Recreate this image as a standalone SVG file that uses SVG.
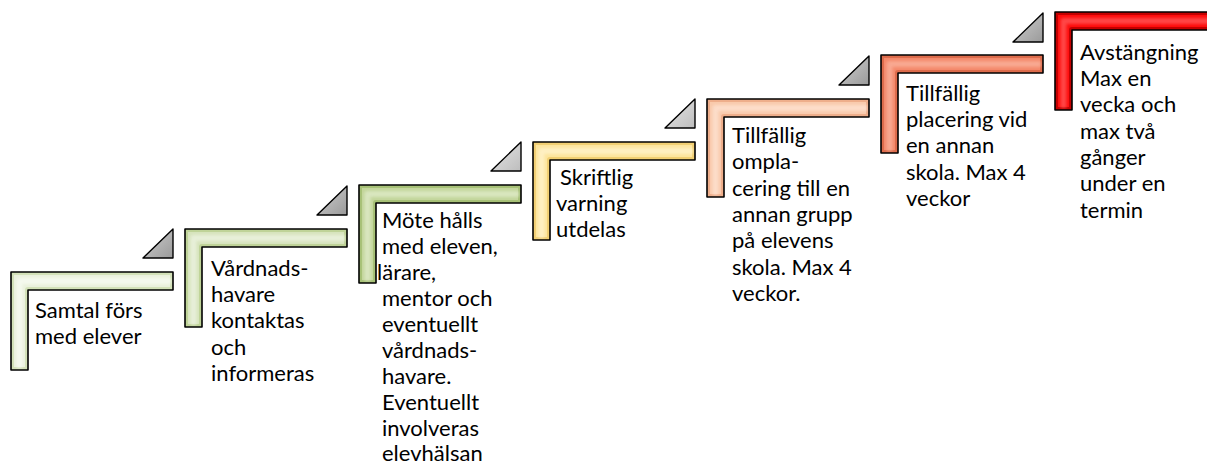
<svg xmlns="http://www.w3.org/2000/svg" width="1207" height="466" viewBox="0 0 1207 466">
<style>
  .lbl { font-family: Lato, "Noto Sans", "Liberation Sans", sans-serif; font-size: 22px; fill: #000; }
  .outline { fill: none; stroke: #000; stroke-width: 1.6; stroke-linejoin: round; }
  .edge { fill: none; stroke-width: 6; stroke-linejoin: round; }
  .hl { fill: none; stroke-width: 6; stroke-linejoin: round; opacity: 0.75; }
  .tri { stroke: #000; stroke-width: 1.4; stroke-linejoin: round; }
</style>
<defs>
  <path id="L" d="M0,0 H162 V18 H17 V98 H0 Z"/>
  <clipPath id="clipL"><use href="#L"/></clipPath>
  <filter id="soft" x="-20%" y="-20%" width="140%" height="140%"><feGaussianBlur stdDeviation="1.6"/></filter>
  <linearGradient id="triMid" x1="0" y1="0" x2="1" y2="1">
    <stop offset="0" stop-color="#d0d0d0"/><stop offset="1" stop-color="#9a9a9a"/>
  </linearGradient>
  <linearGradient id="triLight" x1="0" y1="0" x2="1" y2="1">
    <stop offset="0" stop-color="#e6e6e6"/><stop offset="1" stop-color="#bdbdbd"/>
  </linearGradient>
</defs>

<g id="connectors">
  <polygon class="tri" fill="url(#triMid)" points="143,258 173,258 173,229"/>
  <polygon class="tri" fill="url(#triMid)" points="317,215 347,215 347,186"/>
  <polygon class="tri" fill="url(#triLight)" points="491,171 521,171 521,142"/>
  <polygon class="tri" fill="url(#triLight)" points="665,128 695,128 695,99"/>
  <polygon class="tri" fill="url(#triMid)" points="839,85 869,85 869,56"/>
  <polygon class="tri" fill="url(#triMid)" points="1013,42 1043,42 1043,13"/>
</g>

<g id="step1">
  <g transform="translate(11,272)">
    <use href="#L" fill="#eaf1dd"/>
    <g clip-path="url(#clipL)">
      <use href="#L" class="edge" stroke="#d3e1b8"/>
      <path d="M8.5,96 V9 H160" class="hl" stroke="#f8fbf3" filter="url(#soft)"/>
    </g>
    <use href="#L" class="outline"/>
  </g>
  <text class="lbl"><tspan x="35" y="318">Samtal förs</tspan><tspan x="35" y="344">med elever</tspan></text>
</g>

<g id="step2">
  <g transform="translate(185,229)">
    <use href="#L" fill="#d7e4bd"/>
    <g clip-path="url(#clipL)">
      <use href="#L" class="edge" stroke="#bfd398"/>
      <path d="M8.5,96 V9 H160" class="hl" stroke="#edf3e2" filter="url(#soft)"/>
    </g>
    <use href="#L" class="outline"/>
  </g>
  <text class="lbl"><tspan x="211" y="276">Vårdnads-</tspan><tspan x="211" y="302">havare</tspan><tspan x="211" y="328">kontaktas</tspan><tspan x="211" y="355">och</tspan><tspan x="211" y="381">informeras</tspan></text>
</g>

<g id="step3">
  <g transform="translate(359,185)">
    <use href="#L" fill="#c3d69b"/>
    <g clip-path="url(#clipL)">
      <use href="#L" class="edge" stroke="#a7c177"/>
      <path d="M8.5,96 V9 H160" class="hl" stroke="#e0ebcb" filter="url(#soft)"/>
    </g>
    <use href="#L" class="outline"/>
  </g>
  <text class="lbl"><tspan x="382" y="228">Möte hålls</tspan><tspan x="382" y="254">med eleven,</tspan><tspan x="377" y="280">lärare,</tspan><tspan x="382" y="306">mentor och</tspan><tspan x="382" y="332">eventuellt</tspan><tspan x="382" y="358">vårdnads-</tspan><tspan x="382" y="384">havare.</tspan><tspan x="382" y="410">Eventuellt</tspan><tspan x="382" y="436">involveras</tspan><tspan x="382" y="461">elevhälsan</tspan></text>
</g>

<g id="step4">
  <g transform="translate(533,142)">
    <use href="#L" fill="#fde59c"/>
    <g clip-path="url(#clipL)">
      <use href="#L" class="edge" stroke="#f1cf73"/>
      <path d="M8.5,96 V9 H160" class="hl" stroke="#fff3cf" filter="url(#soft)"/>
    </g>
    <use href="#L" class="outline"/>
  </g>
  <text class="lbl"><tspan x="560" y="185">Skriftlig</tspan><tspan x="556" y="211">varning</tspan><tspan x="556" y="237">utdelas</tspan></text>
</g>

<g id="step5">
  <g transform="translate(707,99)">
    <use href="#L" fill="#f9caac"/>
    <g clip-path="url(#clipL)">
      <use href="#L" class="edge" stroke="#eeae8b"/>
      <path d="M8.5,96 V9 H160" class="hl" stroke="#fde3d3" filter="url(#soft)"/>
    </g>
    <use href="#L" class="outline"/>
  </g>
  <text class="lbl"><tspan x="732" y="143">Tillfällig</tspan><tspan x="732" y="169">ompla-</tspan><tspan x="732" y="196">cering till en</tspan><tspan x="732" y="222">annan grupp</tspan><tspan x="732" y="248">på elevens</tspan><tspan x="732" y="275">skola. Max 4</tspan><tspan x="732" y="301">veckor.</tspan></text>
</g>

<g id="step6">
  <g transform="translate(881,55)">
    <use href="#L" fill="#f4896b"/>
    <g clip-path="url(#clipL)">
      <use href="#L" class="edge" stroke="#dd6c4c"/>
      <path d="M8.5,96 V9 H160" class="hl" stroke="#f9b29d" filter="url(#soft)"/>
    </g>
    <use href="#L" class="outline"/>
  </g>
  <text class="lbl"><tspan x="906" y="101">Tillfällig</tspan><tspan x="906" y="127">placering vid</tspan><tspan x="906" y="153">en annan</tspan><tspan x="906" y="180">skola. Max 4</tspan><tspan x="906" y="206">veckor</tspan></text>
</g>

<g id="step7">
  <g transform="translate(1055,12)">
    <use href="#L" fill="#fe0c0c"/>
    <g clip-path="url(#clipL)">
      <use href="#L" class="edge" stroke="#c40000"/>
      <path d="M8.5,96 V9 H160" class="hl" stroke="#ff5a5a" filter="url(#soft)"/>
    </g>
    <use href="#L" class="outline"/>
  </g>
  <text class="lbl"><tspan x="1080" y="60">Avstängning</tspan><tspan x="1080" y="86">Max en</tspan><tspan x="1080" y="112">vecka och</tspan><tspan x="1080" y="139">max två</tspan><tspan x="1080" y="165">gånger</tspan><tspan x="1080" y="191">under en</tspan><tspan x="1080" y="218">termin</tspan></text>
</g>
</svg>
